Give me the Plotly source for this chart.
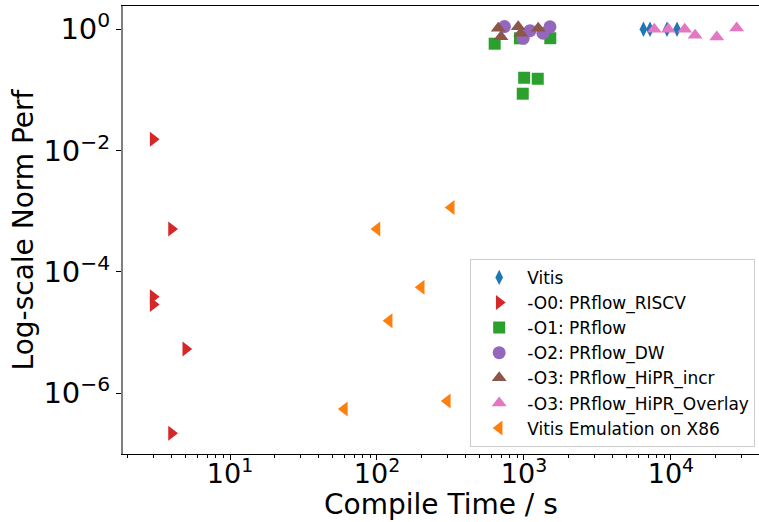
import plotly.graph_objects as go
import numpy as np

# ---- data ----
vitis_x = [6500, 7200, 9400, 11000]
vitis_y = [1.0, 1.0, 1.0, 1.0]

o0_x = [3, 4, 3, 3, 5, 4]
o0_y = [1.54e-2, 5.1e-4, 3.9e-5, 2.9e-5, 5.4e-6, 2.2e-7]

o1_x = [632, 940, 1510, 1003, 1241, 981]
o1_y = [0.579, 0.71, 0.713, 0.159, 0.153, 0.0868]

o2_x = [736, 988, 1099, 1346, 1503]
o2_y = [1.11, 0.71, 0.95, 0.86, 1.10]

o3i_x = [668, 698, 914, 950, 1250]
o3i_y = [1.04, 0.755, 1.10, 0.86, 1.04]

o3o_x = [7700, 9600, 12400, 14600, 20500, 28000]
o3o_y = [1.0, 1.0, 1.0, 0.8, 0.75, 1.05]

emu_x = [320, 100, 200, 121, 301, 60]
emu_y = [1.16e-3, 5.1e-4, 5.6e-5, 1.57e-5, 7.5e-7, 5.5e-7]

x_tickvals = [10, 100, 1000, 10000]
x_ticktext = ["10<sup>1</sup>", "10<sup>2</sup>", "10<sup>3</sup>", "10<sup>4</sup>"]
y_tickvals = [1, 1e-2, 1e-4, 1e-6]
y_ticktext = ["10<sup>0</sup>", "10<sup>\u22122</sup>", "10<sup>\u22124</sup>", "10<sup>\u22126</sup>"]

x_title = "Compile Time / s"
y_title = "Log-scale Norm Perf"

series = [
    ("Vitis", vitis_x, vitis_y, "diamond-tall", "#1f77b4", 11),
    ("-O0: PRflow_RISCV", o0_x, o0_y, "triangle-right", "#d62728", 13),
    ("-O1: PRflow", o1_x, o1_y, "square", "#2ca02c", 12),
    ("-O2: PRflow_DW", o2_x, o2_y, "circle", "#9467bd", 13),
    ("-O3: PRflow_HiPR_incr", o3i_x, o3i_y, "triangle-up", "#8c564b", 13),
    ("-O3: PRflow_HiPR_Overlay", o3o_x, o3o_y, "triangle-up", "#e377c2", 13),
    ("Vitis Emulation on X86", emu_x, emu_y, "triangle-left", "#ff7f0e", 13),
]

fig = go.Figure()
for name, xs, ys, sym, col, sz in series:
    fig.add_trace(go.Scatter(
        x=xs, y=ys, mode="markers", name=name,
        marker=dict(symbol=sym, color=col, size=sz, line=dict(width=0)),
    ))

minor_vals = [m * 10.0 ** d for d in range(0, 5) for m in range(2, 10)]

FONT = "DejaVu Sans"
fig.update_layout(
    width=759, height=522,
    margin=dict(l=123, r=0, t=6, b=68),
    paper_bgcolor="white", plot_bgcolor="white",
    font=dict(family=FONT, size=28, color="black"),
    showlegend=True,
    legend=dict(
        x=0.994, y=0.016, xanchor="right", yanchor="bottom",
        bgcolor="rgba(255,255,255,0.85)", bordercolor="#cccccc", borderwidth=1,
        font=dict(family=FONT, size=17, color="black"),
        itemsizing="trace", itemwidth=46,
    ),
    xaxis=dict(
        type="log", range=[0.272, 4.599],
        tickmode="array", tickvals=x_tickvals, ticktext=x_ticktext,
        ticks="outside", ticklen=5, tickwidth=1, tickcolor="black",
        ticklabelstandoff=-9,
        tickfont=dict(family=FONT, size=27, color="black"),
        minor=dict(tickmode="array", tickvals=minor_vals, ticks="outside",
                   ticklen=3, tickwidth=1, tickcolor="black", showgrid=False),
        showline=True, linecolor="black", linewidth=1, mirror=True,
        showgrid=False, zeroline=False,
    ),
    yaxis=dict(
        type="log", range=[-7.0, 0.384],
        tickmode="array", tickvals=y_tickvals, ticktext=y_ticktext,
        ticks="outside", ticklen=5, tickwidth=1, tickcolor="black",
        tickfont=dict(family=FONT, size=29, color="black"),
        showline=True, linecolor="#7f7f7f", linewidth=2, mirror=False,
        showgrid=False, zeroline=False,
        title=dict(text=y_title, font=dict(family=FONT, size=28), standoff=2),
    ),
    annotations=[dict(
        text=x_title, xref="paper", yref="paper", x=0.5, y=-0.1515,
        xanchor="center", yanchor="bottom", showarrow=False,
        font=dict(family=FONT, size=28, color="black"), borderpad=0,
    )],
)

fig.write_html("out.html")
